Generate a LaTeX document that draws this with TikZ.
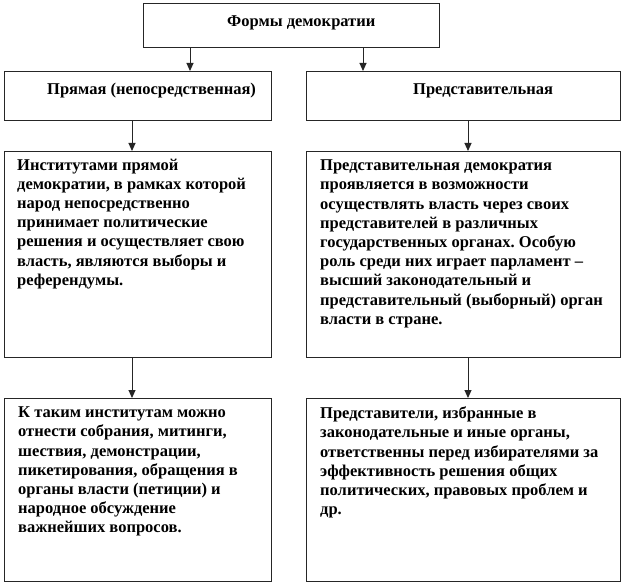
\documentclass[tikz,border=0pt]{standalone}
\usepackage{fontspec}
\setmainfont{Liberation Serif}
\usetikzlibrary{arrows.meta}
\frenchspacing
\begin{document}
\begin{tikzpicture}[x=1pt,y=-1pt,
  box/.style={draw=black!85,line width=1pt,rectangle,inner sep=0pt,anchor=north west},
  txt/.style={anchor=north west,inner sep=0pt,align=left,font=\fontsize{16.5}{19.2}\selectfont\bfseries,execute at begin node=\strut},
  head/.style={inner sep=0pt,anchor=base west,font=\fontsize{16.5}{19.2}\selectfont\bfseries},
  arr/.style={draw=black!85,line width=1pt,-{Triangle[width=7pt,length=8pt]}}]
\useasboundingbox (0,0) rectangle (623,585);
\fill[white] (0,0) rectangle (623,585);
% boxes
\node[box,minimum width=296,minimum height=44] (top) at (143,3) {};
\node[box,minimum width=267,minimum height=49] (l1) at (4,71) {};
\node[box,minimum width=314,minimum height=49] (r1) at (306,71) {};
\node[box,minimum width=267,minimum height=206] (l2) at (4,151) {};
\node[box,minimum width=314,minimum height=206] (r2) at (306,151) {};
\node[box,minimum width=267,minimum height=183] (l3) at (4,398) {};
\node[box,minimum width=314,minimum height=183] (r3) at (306,398) {};
% texts
\node[head] (ttop) at (227,27) {Формы демократии};
\node[head] (tl1) at (47,95) {Прямая (непосредственная)};
\node[head] (tr1) at (413,95) {Представительная};
\node[txt] (tl2) at (17,158.6) {Институтами прямой\\демократии, в рамках которой\\народ непосредственно\\принимает политические\\решения и осуществляет свою\\власть, являются выборы и\\референдумы.};
\node[txt] (tr2) at (320,159.6) {Представительная демократия\\проявляется в возможности\\осуществлять власть через своих\\представителей в различных\\государственных органах. Особую\\роль среди них играет парламент –\\высший законодательный и\\представительный (выборный) орган\\власти в стране.};
\node[txt] (tl3) at (18,406.6) {К таким институтам можно\\отнести собрания, митинги,\\шествия, демонстрации,\\пикетирования, обращения в\\органы власти (петиции) и\\народное обсуждение\\важнейших вопросов.};
\node[txt] (tr3) at (320,406.6) {Представители, избранные в\\законодательные и иные органы,\\ответственны перед избирателями за\\эффективность решения общих\\политических, правовых проблем и\\др.};
% arrows
\draw[arr] (top.south -| 190,0) -- (l1.north -| 190,0);
\draw[arr] (top.south -| 363,0) -- (r1.north -| 363,0);
\draw[arr] (l1.south -| 132,0) -- (l2.north -| 132,0);
\draw[arr] (r1.south -| 468,0) -- (r2.north -| 468,0);
\draw[arr] (l2.south -| 132,0) -- (l3.north -| 132,0);
\draw[arr] (r2.south -| 468,0) -- (r3.north -| 468,0);
\end{tikzpicture}
\end{document}
